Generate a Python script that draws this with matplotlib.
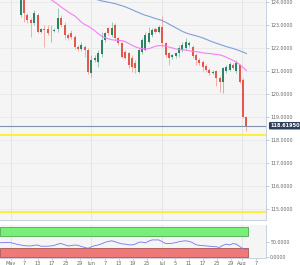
import numpy as np
import matplotlib
matplotlib.use('Agg')
import matplotlib.pyplot as plt


# candles (daily), index 0 = first visible candle
opens = [123.44, 124.25, 123.44, 123.22, 123.09, 123.44, 122.70, 122.81, 122.83, 122.72,
         122.75, 122.83, 123.31, 123.00, 122.57, 122.66, 122.48, 122.05, 121.96, 122.05,
         121.92, 120.92, 121.48, 121.40, 121.75, 122.35, 122.87, 122.57, 123.00, 122.44,
         122.22, 121.83, 121.79, 121.57, 121.35, 120.96, 121.83, 121.92, 122.26, 122.57,
         122.83, 122.70, 122.92, 122.22, 121.79, 121.61, 121.66, 121.79, 121.92, 122.00,
         122.13, 122.05, 121.70, 121.48, 121.39, 121.22, 121.05, 120.92, 121.00, 120.70,
         120.52, 121.00, 121.05, 121.26, 121.00, 121.26, 120.61, 119.00]
highs = [124.35, 124.40, 123.52, 123.31, 123.66, 123.52, 122.87, 123.00, 123.00, 123.00,
         122.87, 123.74, 123.44, 123.13, 122.66, 122.79, 122.57, 122.13, 122.26, 122.13,
         122.00, 121.70, 121.70, 121.92, 122.70, 122.70, 122.92, 123.13, 123.09, 122.48,
         122.26, 121.92, 121.83, 121.70, 121.48, 122.00, 122.44, 122.70, 122.92, 122.87,
         122.92, 123.00, 123.39, 122.26, 121.83, 121.74, 121.83, 122.13, 122.26, 122.44,
         122.30, 122.13, 121.79, 121.57, 121.48, 121.30, 121.13, 121.05, 121.05, 120.79,
         121.18, 121.26, 121.39, 121.35, 121.48, 121.30, 120.70, 119.05]
lows = [123.35, 123.13, 123.09, 122.48, 123.00, 122.66, 122.66, 122.05, 122.57, 122.26,
        122.70, 122.70, 122.92, 122.39, 122.35, 122.40, 121.96, 121.88, 121.88, 121.61,
        120.87, 120.74, 121.39, 121.18, 121.61, 122.26, 122.57, 122.48, 122.35, 122.13,
        121.55, 121.50, 121.13, 120.96, 120.92, 120.92, 121.74, 121.88, 122.22, 122.48,
        122.66, 122.66, 122.05, 121.61, 121.26, 121.52, 121.57, 121.61, 121.83, 121.92,
        122.05, 121.57, 121.26, 121.26, 121.00, 120.96, 120.83, 120.87, 120.35, 120.09,
        120.05, 120.92, 121.00, 121.09, 120.92, 120.48, 118.95, 118.40]
closes = [124.25, 123.52, 123.22, 123.09, 123.52, 122.70, 122.83, 122.77, 122.66, 122.75,
          122.79, 123.31, 123.00, 122.57, 122.44, 122.48, 122.05, 121.96, 122.13, 121.92,
          120.96, 121.48, 121.57, 121.79, 122.35, 122.66, 122.66, 122.87, 122.44, 122.22,
          121.61, 121.57, 121.26, 121.18, 121.13, 121.92, 122.35, 122.57, 122.66, 122.79,
          122.70, 122.92, 122.22, 121.70, 121.57, 121.70, 121.79, 122.00, 122.13, 122.26,
          122.22, 121.66, 121.48, 121.35, 121.18, 121.05, 120.92, 120.96, 120.70, 120.52,
          121.13, 121.18, 121.30, 121.13, 121.35, 120.52, 119.00, 118.62]

# moving averages (start index given)
ma_pink_start = 8
ma_pink = [124.20, 124.10, 124.00, 123.90, 123.78, 123.68, 123.58, 123.48, 123.40, 123.27,
           123.12, 123.02, 122.95, 122.85, 122.75, 122.62, 122.52, 122.45, 122.40, 122.36,
           122.34, 122.33, 122.32, 122.28, 122.20, 122.12, 122.05, 122.00, 121.97, 121.96,
           121.97, 122.02, 122.08, 122.10, 122.10, 122.08, 122.04, 122.00, 121.96, 121.93,
           121.92, 121.91, 121.88, 121.86, 121.84, 121.82, 121.79, 121.77, 121.76, 121.74,
           121.72, 121.70, 121.66, 121.60, 121.53, 121.46, 121.38, 121.28, 121.15, 121.02]
ma_blue_start = 22
ma_blue = [124.13, 124.09, 124.05, 124.02, 123.99, 123.96, 123.93, 123.88, 123.84, 123.79,
           123.73, 123.67, 123.60, 123.54, 123.48, 123.42, 123.38, 123.33, 123.28, 123.24,
           123.19, 123.12, 123.04, 122.96, 122.88, 122.80, 122.72, 122.66, 122.61, 122.57,
           122.53, 122.49, 122.44, 122.38, 122.32, 122.26, 122.21, 122.16, 122.11, 122.06,
           122.02, 121.98, 121.93, 121.88, 121.82, 121.76]

# RSI, starts 6 candles before the first visible one
rsi_start = -6
rsi = [46.7, 47.0, 47.5, 47.0, 44, 41, 39, 37, 36, 36, 38, 39, 35, 35, 35, 36, 38, 42, 44, 40,
       36, 37, 39, 38, 34, 31, 28, 33, 37, 39, 43, 48, 51, 53, 50, 46, 43, 42, 40, 39,
       42, 48, 49, 46, 52, 56, 56, 56, 50, 44, 44, 45, 47, 50, 52, 53, 51, 47, 40, 38,
       37, 36, 35, 34, 33, 31, 38, 42, 39, 44, 42, 34, 27, 24]

levels = [118.2, 114.85]
last_price = 118.61950

tick_pos = [-2.9, 1.0, 5.1, 9.3, 13.4, 17.6, 20.9, 25.0, 29.2, 33.3, 37.5,
            41.9, 45.8, 49.9, 54.0, 58.2, 62.4, 65.7, 69.8]
tick_lab = ['May', '7', '13', '17', '23', '29', 'Jun', '7', '13', '19', '25',
            'Jul', '5', '11', '17', '23', '29', 'Aug', '7']
month_pos = [-2.9, 20.9, 41.9, 65.7]

green = '#2a8468'
red = '#e2584b'
bg = '#f5f5f5'
xmin, xmax = -6.15, 72.8

fig = plt.figure(figsize=(3.0, 2.65), dpi=100)
ax = fig.add_axes([0, 0.1698, 0.8867, 0.8302])
ax2 = fig.add_axes([0, 0.0264, 0.8867, 0.1245])

o = np.array(opens)
c = np.array(closes)
h = np.array(highs)
l = np.array(lows)
x = np.arange(len(o))
up = c >= o
cols = np.where(up, green, red)
wick_cols = np.where(up, '#8fbfae', '#f0a49c')

ax.set_facecolor(bg)
for y in range(115, 125):
    ax.axhline(y, color='#e6e6e6', lw=0.5, zorder=0)
for m in month_pos:
    ax.axvline(m, color='#e3e3e3', lw=0.6, zorder=0)

ax.vlines(x, l, h, colors=wick_cols, lw=0.6, zorder=2)
body = np.maximum(np.abs(c - o), 0.03)
ax.bar(x, body, bottom=np.minimum(o, c), width=0.6, color=cols, lw=0, zorder=3)

ax.plot(np.arange(len(ma_pink)) + ma_pink_start, ma_pink, color='#f47ff4', lw=0.8, zorder=4)
ax.plot(np.arange(len(ma_blue)) + ma_blue_start, ma_blue, color='#7f9fdc', lw=0.8, zorder=4)

for lv in levels:
    ax.axhline(lv, color='#fff000', lw=1.1, zorder=5)
ax.axhline(last_price, color='#8290a8', lw=0.8, zorder=5)

ax.set_xlim(xmin, xmax)
ax.set_ylim(114.52, 124.087)
ax.yaxis.tick_right()
ax.set_yticks(range(115, 125))
ax.set_yticklabels(['%.4f' % v for v in range(115, 125)])
ax.tick_params(axis='y', labelsize=3.4, colors='#9aa4b4', labelcolor='#666666',
               length=2, width=0.4, pad=1)
ax.set_xticks([])
for s in ['top', 'left']:
    ax.spines[s].set_visible(False)
for s in ['right', 'bottom']:
    ax.spines[s].set_color('#c9d1e0')
    ax.spines[s].set_linewidth(0.7)

ax.annotate('%.5f' % last_price, xy=(1.0, last_price), xycoords=('axes fraction', 'data'),
            xytext=(3, 0), textcoords='offset points', ha='left', va='center',
            fontsize=3.6, color='white', fontweight='bold',
            bbox=dict(boxstyle='round,pad=0.25', fc='#2c3e5a', ec='none'))

# RSI panel
ax2.set_facecolor(bg)
for m in month_pos:
    ax2.axvline(m, color='#e3e3e3', lw=0.6, zorder=0)
band_end = len(o) - 0.5
ax2.fill_between([xmin, band_end], 70, 100, color='#78ef78', ec='#3c9c3c', lw=0.5, zorder=1)
ax2.fill_between([xmin, band_end], 0, 30, color='#ef7878', ec='#9c4040', lw=0.5, zorder=1)
ax2.plot(np.arange(len(rsi)) + rsi_start, rsi, color='#7474f4', lw=0.6, zorder=3)
ax2.set_xlim(xmin, xmax)
ax2.set_ylim(-4.3, 105.7)
ax2.yaxis.tick_right()
ax2.set_yticks([0, 50])
ax2.set_yticklabels(['0.0000', '50.0000'])
ax2.tick_params(axis='y', labelsize=3.4, colors='#9aa4b4', labelcolor='#666666',
                length=2, width=0.4, pad=1)
ax2.set_xticks(tick_pos)
ax2.set_xticklabels(tick_lab)
ax2.tick_params(axis='x', labelsize=3.6, colors='#9aa4b4', labelcolor='#666666',
                length=1.5, width=0.4, pad=0.8)
for s in ['top', 'left']:
    ax2.spines[s].set_visible(False)
for s in ['right', 'bottom']:
    ax2.spines[s].set_color('#c9d1e0')
    ax2.spines[s].set_linewidth(0.7)

fig.savefig('out.png', dpi=100)
